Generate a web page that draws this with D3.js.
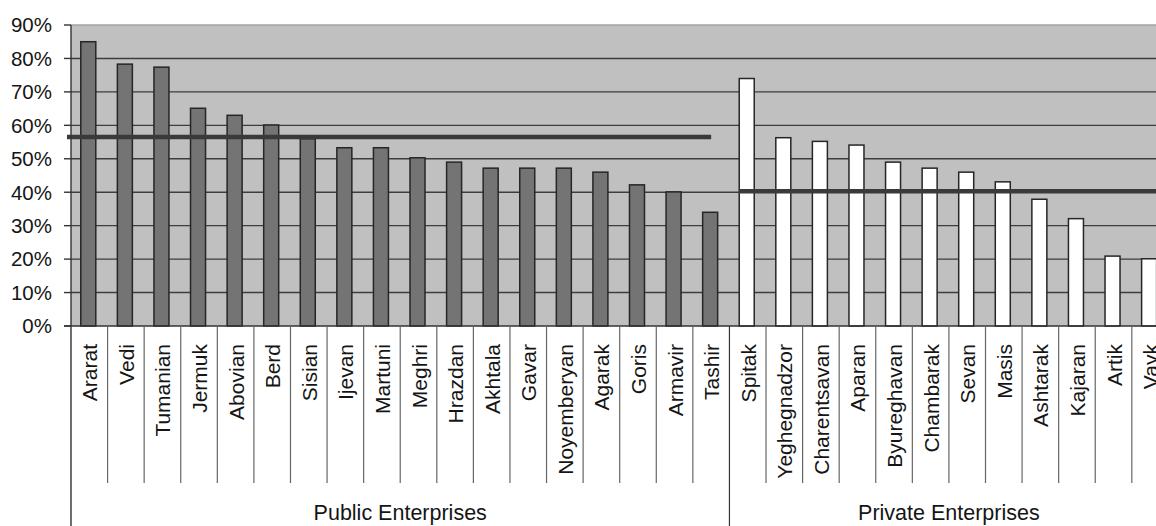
<!DOCTYPE html>
<html>
<head>
<meta charset="utf-8">
<script src="https://cdn.jsdelivr.net/npm/d3@7"></script>
<style>
  html, body { margin: 0; padding: 0; background: #ffffff; }
  svg { display: block; overflow: hidden; }
  text { font-family: "Liberation Sans", Arial, Helvetica, sans-serif; fill: #151515; }
</style>
</head>
<body>
<svg id="chart" width="1156" height="526"></svg>
<script>
// ---- data ----
const publicNames = ["Ararat", "Vedi", "Tumanian", "Jermuk", "Abovian", "Berd", "Sisian", "Ijevan", "Martuni",
  "Meghri", "Hrazdan", "Akhtala", "Gavar", "Noyemberyan", "Agarak", "Goris", "Armavir", "Tashir"];
const publicValues = [0.850, 0.783, 0.774, 0.651, 0.630, 0.601, 0.560, 0.533, 0.533,
  0.503, 0.490, 0.472, 0.472, 0.472, 0.460, 0.422, 0.401, 0.340];
const privateNames = ["Spitak", "Yeghegnadzor", "Charentsavan", "Aparan", "Byureghavan", "Chambarak",
  "Sevan", "Masis", "Ashtarak", "Kajaran", "Artik", "Vayk"];
const privateValues = [0.740, 0.563, 0.552, 0.541, 0.490, 0.472, 0.460, 0.431, 0.379, 0.321, 0.209, 0.201];
const groupLabels = ["Public Enterprises", "Private Enterprises"];
const groupAverages = [0.565, 0.403];
const yTickValues = [0, 0.1, 0.2, 0.3, 0.4, 0.5, 0.6, 0.7, 0.8, 0.9];

// ---- layout ----
const svg = d3.select("#chart");
const plotLeft = 71, plotTop = 25, plotBottom = 326;
const nCats = publicNames.length + privateNames.length;
const bandW = 36.58;
const plotRight = plotLeft + nCats * bandW;

const categories = publicNames.concat(privateNames);
const rows = categories.map((name, i) => ({
  name,
  value: i < publicNames.length ? publicValues[i] : privateValues[i - publicNames.length],
  group: i < publicNames.length ? 0 : 1
}));

const x = d3.scaleBand().domain(categories).range([plotLeft, plotRight]).paddingInner(0).paddingOuter(0);
const y = d3.scaleLinear().domain([0, 0.9]).range([plotBottom, plotTop]);

// plot background
svg.append("rect")
  .attr("x", plotLeft).attr("y", plotTop)
  .attr("width", plotRight - plotLeft).attr("height", plotBottom - plotTop)
  .attr("fill", "#bfc0bf");

// gridlines
svg.append("g").selectAll("line")
  .data(yTickValues.filter(v => v > 0 && v < 0.9))
  .join("line")
  .attr("x1", plotLeft).attr("x2", plotRight)
  .attr("y1", d => y(d)).attr("y2", d => y(d))
  .attr("stroke", "#3d3d3d").attr("stroke-width", 1.4);

// top border
svg.append("line")
  .attr("x1", plotLeft).attr("x2", plotRight)
  .attr("y1", y(0.9)).attr("y2", y(0.9))
  .attr("stroke", "#a3a3a3").attr("stroke-width", 1.4);

// bars
const barW = 15;
svg.append("g").selectAll("rect")
  .data(rows)
  .join("rect")
  .attr("x", d => x(d.name) + x.bandwidth() / 2 - barW / 2 - 1)
  .attr("y", d => y(d.value))
  .attr("width", barW)
  .attr("height", d => y(0) - y(d.value))
  .attr("fill", d => d.group === 0 ? "#747474" : "#ffffff")
  .attr("stroke", "#262626")
  .attr("stroke-width", 1.5);

// average lines
const pubLast = publicNames[publicNames.length - 1];
const privFirst = privateNames[0];
const avgSegs = [
  { x1: plotLeft - 4, x2: x(pubLast) + x.bandwidth() / 2, v: groupAverages[0] },
  { x1: x(privFirst) + x.bandwidth() / 2 - barW / 2 - 1, x2: plotRight, v: groupAverages[1] }
];
svg.append("g").selectAll("line")
  .data(avgSegs)
  .join("line")
  .attr("x1", d => d.x1).attr("x2", d => d.x2)
  .attr("y1", d => y(d.v)).attr("y2", d => y(d.v))
  .attr("stroke", "#3a3a3a").attr("stroke-width", 4.5);

// x-axis baseline
svg.append("line")
  .attr("x1", plotLeft - 7).attr("x2", plotRight)
  .attr("y1", y(0)).attr("y2", y(0))
  .attr("stroke", "#333").attr("stroke-width", 1.4);

// y axis line
svg.append("line")
  .attr("x1", plotLeft).attr("x2", plotLeft)
  .attr("y1", plotTop).attr("y2", 526)
  .attr("stroke", "#333").attr("stroke-width", 1.4);

// y ticks & labels
const yg = svg.append("g");
yg.selectAll("line")
  .data(yTickValues)
  .join("line")
  .attr("x1", plotLeft - 7).attr("x2", plotLeft)
  .attr("y1", d => y(d)).attr("y2", d => y(d))
  .attr("stroke", "#333").attr("stroke-width", 1.4);
yg.selectAll("text")
  .data(yTickValues)
  .join("text")
  .attr("x", 52)
  .attr("y", d => y(d))
  .attr("dy", "0.36em")
  .attr("text-anchor", "end")
  .attr("font-size", 20.5)
  .text(d => d3.format(".0%")(d));

// category separators
const boundaries = d3.range(1, nCats).map(i => plotLeft + i * bandW);
svg.append("g").selectAll("line")
  .data(boundaries)
  .join("line")
  .attr("x1", d => d).attr("x2", d => d)
  .attr("y1", plotBottom).attr("y2", (d, i) => (i + 1) === publicNames.length ? 526 : 483)
  .attr("stroke", (d, i) => (i + 1) === publicNames.length ? "#333" : "#666")
  .attr("stroke-width", 1.2);

// category labels
svg.append("g").selectAll("text")
  .data(rows)
  .join("text")
  .attr("transform", d => `translate(${x(d.name) + x.bandwidth() / 2 + 8},344) rotate(-90)`)
  .attr("text-anchor", "end")
  .attr("font-size", 21)
  .text(d => d.name);

// group labels
const groupCenters = [
  (plotLeft + x(pubLast) + x.bandwidth()) / 2,
  (x(privFirst) + plotRight) / 2
];
svg.append("g").selectAll("text")
  .data(groupLabels)
  .join("text")
  .attr("x", (d, i) => groupCenters[i])
  .attr("y", 520)
  .attr("text-anchor", "middle")
  .attr("font-size", 21.5)
  .text(d => d);
</script>
</body>
</html>
